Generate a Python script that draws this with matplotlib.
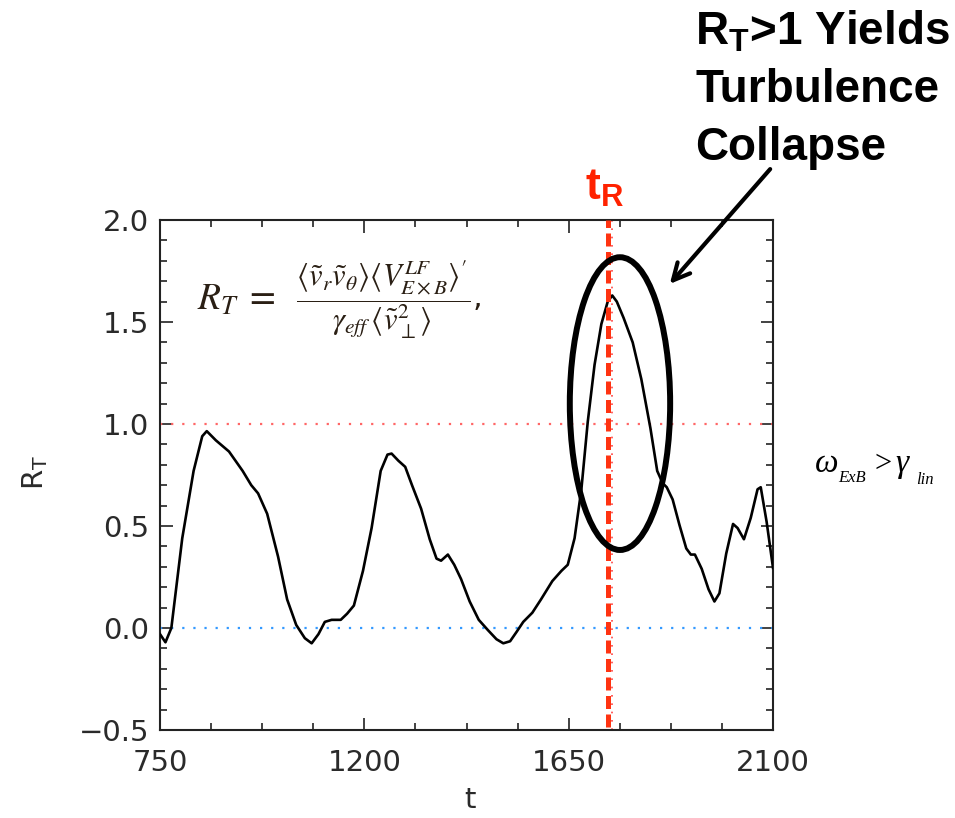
import matplotlib
matplotlib.use("Agg")
import matplotlib.pyplot as plt
from matplotlib.patches import Ellipse, FancyArrowPatch

plt.rcParams['font.family'] = ['DejaVu Sans']
plt.rcParams['mathtext.fontset'] = 'custom'
plt.rcParams['mathtext.rm'] = 'DejaVu Sans'
plt.rcParams['mathtext.bf'] = 'Liberation Sans:bold'
plt.rcParams['mathtext.it'] = 'DejaVu Sans:italic'

# ---- data ----
t_vals = [750, 762, 775, 799, 824, 843, 853, 873, 902, 932, 951, 966, 986, 1010,
          1030, 1050, 1069, 1084, 1099, 1113, 1128, 1148, 1162, 1177, 1197, 1216,
          1236, 1251, 1260, 1275, 1290, 1305, 1325, 1344, 1359, 1369, 1384, 1398,
          1413, 1432, 1452, 1472, 1491, 1506, 1521, 1535, 1550, 1570, 1589, 1614,
          1634, 1648, 1663, 1678, 1692, 1707, 1722, 1736, 1746, 1756, 1771, 1791,
          1810, 1830, 1845, 1857, 1866, 1879, 1894, 1909, 1919, 1928, 1943, 1958,
          1971, 1982, 1997, 2012, 2022, 2036, 2051, 2066, 2073, 2086, 2100]
rt_vals = [-0.03, -0.07, 0.0, 0.44, 0.77, 0.94, 0.965, 0.92, 0.865, 0.77, 0.70,
           0.66, 0.56, 0.35, 0.14, 0.015, -0.05, -0.075, -0.03, 0.03, 0.04, 0.04,
           0.07, 0.11, 0.28, 0.49, 0.77, 0.85, 0.855, 0.82, 0.79, 0.70, 0.585,
           0.435, 0.34, 0.33, 0.36, 0.31, 0.24, 0.13, 0.04, -0.01, -0.055, -0.075,
           -0.065, -0.02, 0.03, 0.075, 0.14, 0.23, 0.28, 0.31, 0.44, 0.68, 1.01,
           1.29, 1.49, 1.60, 1.63, 1.60, 1.52, 1.40, 1.22, 0.98, 0.77, 0.71, 0.69,
           0.63, 0.505, 0.39, 0.36, 0.36, 0.29, 0.19, 0.13, 0.17, 0.365, 0.51,
           0.49, 0.435, 0.54, 0.68, 0.69, 0.52, 0.295]

x_ticks = [750, 1200, 1650, 2100]
y_ticks = [-0.5, 0.0, 0.5, 1.0, 1.5, 2.0]
y_ticklabels = ['\u22120.5', '0.0', '0.5', '1.0', '1.5', '2.0']
t_R = 1736
t_peak = 1746
ellipse_center = (1763, 1.10)
ellipse_size = (221, 1.435)

W, H = 955, 818
fig = plt.figure(figsize=(W / 100, H / 100), dpi=100)
ax = fig.add_axes([160 / W, 1 - 730 / H, 613 / W, 510 / H])

ax.plot(t_vals, rt_vals, color='black', lw=1.9, zorder=3)
ax.axhline(1.0, color='#FF6666', lw=1.6, ls=(0, (1, 4)), zorder=2)
ax.axhline(0.0, color='#3399FF', lw=1.6, ls=(0, (1, 4)), zorder=2)
ax.axvline(t_peak, color='#FF4444', lw=1.2, ls=(0, (1, 4)), zorder=2)
ax.axvline(t_R, ymin=0.005, ymax=1.0, color='#FF3311', lw=3.6,
           ls=(0, (2.6, 1.1)), zorder=4)
ax.add_patch(Ellipse(ellipse_center, ellipse_size[0], ellipse_size[1],
                     fill=False, ec='black', lw=4.3, zorder=5))

ax.set_xlim(750, 2100)
ax.set_ylim(-0.5, 2.0)
ax.set_xticks(x_ticks)
ax.set_yticks(y_ticks)
ax.set_yticklabels(y_ticklabels)
ax.set_xticks([750 + 112.5 * i for i in range(13)], minor=True)
ax.set_yticks([-0.5 + 0.1 * i for i in range(26)], minor=True)
ax.tick_params(which='both', direction='in', top=True, right=True,
               width=1.2, color='#222222', labelsize=21, labelcolor='#2a2a2a')
ax.tick_params(which='major', length=9)
ax.tick_params(which='minor', length=5)
ax.tick_params(axis='y', pad=8)
ax.tick_params(axis='x', pad=14)
for s in ax.spines.values():
    s.set_linewidth(1.5)
    s.set_color('#222222')

# axis labels
fig.text(35 / W, 1 - 472 / H, r'R$_\mathregular{T}$', rotation=90, fontsize=21,
         ha='center', va='center', color='#2a2a2a')
fig.text(470 / W, 1 - 800 / H, 't', fontsize=21, ha='center', va='center',
         color='#2a2a2a')

# formula
fig.text(197 / W, 1 - 300 / H, r"$R_T\;=$",
         fontsize=27, ha='left', va='center', color='#2a1f14',
         math_fontfamily='stix')
fig.text(296 / W, 1 - 300 / H,
         r"$\dfrac{\langle\tilde{v}_r\tilde{v}_\theta\rangle\langle V^{LF}_{E\times B}\rangle'}{\gamma_{eff}\,\langle\tilde{v}_\perp^2\rangle}$,",
         fontsize=22, ha='left', va='center', color='#2a1f14',
         math_fontfamily='stix')

# annotation text
fig.text(695 / W, 1 - 45 / H, r'$\mathbf{R_T}$>1 Yields', fontsize=33,
         fontweight='bold', family='Liberation Sans', ha='left',
         va='baseline', color='black')
fig.text(695 / W, 1 - 102 / H, 'Turbulence', fontsize=33,
         fontweight='bold', family='Liberation Sans', ha='left',
         va='baseline', color='black')
fig.text(695 / W, 1 - 160 / H, 'Collapse', fontsize=33,
         fontweight='bold', family='Liberation Sans', ha='left',
         va='baseline', color='black')

# t_R label
fig.text(605 / W, 1 - 200 / H, r'$\mathbf{t_R}$', fontsize=32, ha='center',
         va='baseline', color='#FF2200')

# arrow
fig.add_artist(FancyArrowPatch(
    (772 / W, 1 - 167 / H), (668 / W, 1 - 286 / H), transform=fig.transFigure,
    arrowstyle='->', mutation_scale=30, lw=3, color='black'))

# omega_ExB > gamma_lin
serif = ['Liberation Serif', 'DejaVu Serif']
fig.text(815 / W, 1 - 472 / H, '\u03c9', fontsize=24, family=serif,
         style='italic', ha='left', va='baseline')
fig.text(838 / W, 1 - 482 / H, 'ExB', fontsize=12, family=serif,
         style='italic', ha='left', va='baseline')
fig.text(874 / W, 1 - 472 / H, '>', fontsize=22, family=serif,
         ha='left', va='baseline')
fig.text(895 / W, 1 - 472 / H, '\u03b3', fontsize=24, family=serif,
         style='italic', ha='left', va='baseline')
fig.text(916 / W, 1 - 484 / H, 'lin', fontsize=12, family=serif,
         style='italic', ha='left', va='baseline')

fig.savefig('out.png', dpi=100)
